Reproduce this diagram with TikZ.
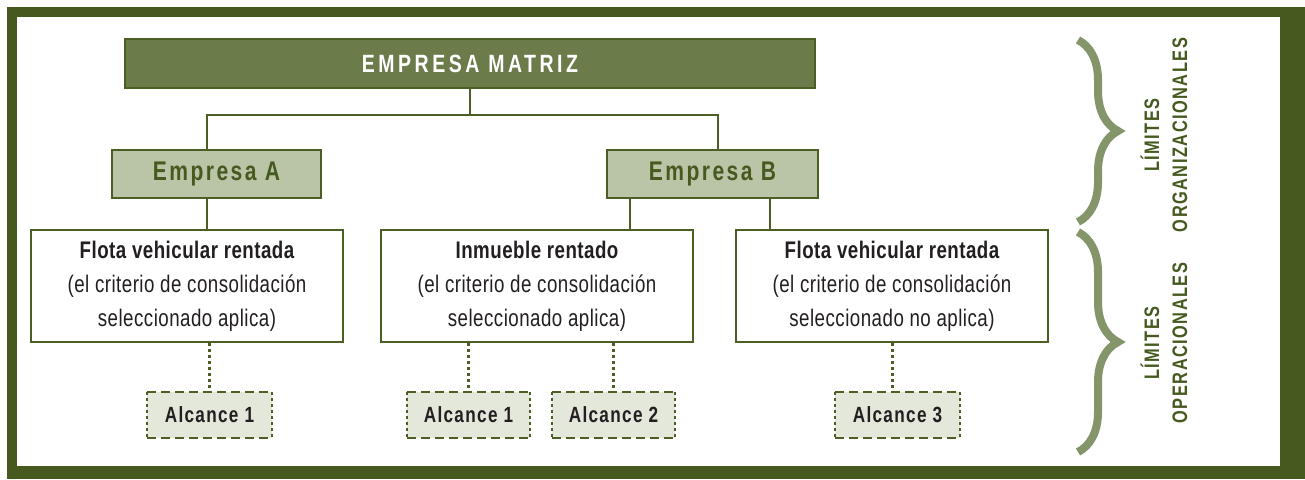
\documentclass[tikz,border=0pt]{standalone}
\usepackage{fontspec}
\setmainfont{Liberation Sans}[FakeStretch=0.78]
\usepackage{tikz}
\usetikzlibrary{positioning,decorations.pathreplacing}

\definecolor{marco}{HTML}{465A20}
\definecolor{linea}{HTML}{4B5F24}
\definecolor{matrizfill}{HTML}{6B7B4A}
\definecolor{empfill}{HTML}{BAC5A8}
\definecolor{alcfill}{HTML}{E3E8DB}
\definecolor{llaveverde}{HTML}{84956A}
\definecolor{texto}{HTML}{231F20}

\newcommand{\bordealc}[1]{
  \draw[linea, line width=2pt, dash pattern=on 9pt off 5pt]
    (#1.north west) -- (#1.north east) (#1.south west) -- (#1.south east);
  \draw[linea, line width=2.5pt, dash pattern=on 3pt off 3pt]
    (#1.north west) -- (#1.south west) (#1.north east) -- (#1.south east);
}

\tikzset{
  matriz/.style={fill=matrizfill, draw=linea, line width=1.5pt, inner sep=0pt,
    minimum width=690pt, minimum height=49pt, text=white,
    font=\bfseries\fontsize{25}{25}\selectfont\addfontfeatures{LetterSpace=14}},
  empresa/.style={fill=empfill, draw=linea, line width=2pt, inner sep=0pt,
    minimum height=48pt, text=marco,
    font=\bfseries\fontsize{27}{27}\selectfont\addfontfeatures{LetterSpace=9}},
  unidad/.style={fill=white, draw=linea, line width=2pt, inner sep=0pt,
    minimum width=312pt, minimum height=112pt, align=center, text=texto,
    font=\fontsize{24}{34}\selectfont\addfontfeatures{LetterSpace=2}},
  alcance/.style={fill=alcfill, inner sep=0pt, minimum height=46pt, text=texto,
    font=\bfseries\fontsize{22}{22}\selectfont\addfontfeatures{LetterSpace=6}},
  conector/.style={linea, line width=2pt},
  punteado/.style={linea, line width=3pt, dash pattern=on 3pt off 3pt},
  llave/.style={llaveverde, line width=8pt, decorate,
    decoration={brace, amplitude=40pt}},
  limite/.style={rotate=90, align=center, text=marco,
    font=\bfseries\fontsize{21}{28}\selectfont\addfontfeatures{LetterSpace=7}}
}

\begin{document}
\begin{tikzpicture}[x=1pt,y=-1pt]
  \useasboundingbox (0,0) rectangle (1305,479);
  % marco
  \fill[marco] (7,7) rectangle (1305,479);
  \fill[white] (17,17) rectangle (1280,466);

  \node[matriz] (matriz) at (470,63.5) {EMPRESA MATRIZ};
  \node[empresa, minimum width=209pt] (empA) at (216.5,174) {Empresa A};
  \node[empresa, minimum width=211pt] (empB) at (712.5,174) {Empresa B};

  \node[unidad] (flotaA) at (187,286)
    {{\bfseries Flota vehicular rentada}\\(el criterio de consolidación\\seleccionado aplica)};
  \node[unidad] (inm) at (537,286)
    {{\bfseries Inmueble rentado}\\(el criterio de consolidación\\seleccionado aplica)};
  \node[unidad] (flotaB) at (892,286)
    {{\bfseries Flota vehicular rentada}\\(el criterio de consolidación\\seleccionado no aplica)};

  \node[alcance, minimum width=125pt] (alcA) at (209.5,415) {Alcance 1};
  \node[alcance, minimum width=123pt] (alcB1) at (468.5,415) {Alcance 1};
  \node[alcance, minimum width=123pt] (alcB2) at (613.5,415) {Alcance 2};
  \node[alcance, minimum width=125pt] (alcC) at (897.5,415) {Alcance 3};
  \bordealc{alcA}
  \bordealc{alcB1}
  \bordealc{alcB2}
  \bordealc{alcC}

  % conectores
  \coordinate (bus) at ([yshift=-26pt]matriz.south);
  \draw[conector] (matriz.south) -- (bus);
  \draw[conector] ([xshift=-9.5pt]empA.north) |- (bus) -| ([xshift=5.5pt]empB.north);
  \draw[conector] ([xshift=-9.5pt]empA.south) -- ([xshift=-9.5pt]empA.south |- flotaA.north);
  \draw[conector] ([xshift=-82.5pt]empB.south) -- ([xshift=-82.5pt]empB.south |- inm.north);
  \draw[conector] ([xshift=57.5pt]empB.south) -- ([xshift=57.5pt]empB.south |- flotaB.north);

  \draw[punteado] (flotaA.south -| alcA.north) -- (alcA.north);
  \draw[punteado] (inm.south -| alcB1.north) -- (alcB1.north);
  \draw[punteado] (inm.south -| alcB2.north) -- (alcB2.north);
  \draw[punteado] (flotaB.south) -- (flotaB.south |- alcC.north);

  % limites
  \draw[llave] (1078,40) -- (1078,222);
  \draw[llave] (1078,232) -- (1078,452);
  \node[limite] (org) at (1164,135) {LÍMITES\\ORGANIZACIONALES};
  \node[limite] (ope) at (1164,343) {LÍMITES\\OPERACIONALES};
\end{tikzpicture}
\end{document}
